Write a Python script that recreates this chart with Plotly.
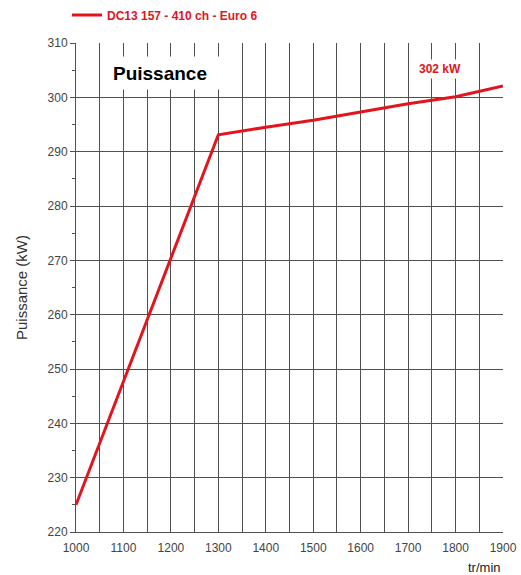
import plotly.graph_objects as go

rpm = [1000, 1300, 1400, 1500, 1600, 1700, 1800, 1900]
power_kw = [225, 293.1, 294.5, 295.8, 297.3, 298.8, 300.1, 302.1]
series_name = "DC13 157 - 410 ch - Euro 6"
x_ticks = [1000, 1100, 1200, 1300, 1400, 1500, 1600, 1700, 1800, 1900]
y_ticks = [220, 230, 240, 250, 260, 270, 280, 290, 300, 310]

RED = "#e3141b"
GRID = "#505050"
W, H = 521, 575

fig = go.Figure()
fig.add_trace(go.Scatter(
    x=rpm, y=power_kw, mode="lines", name=series_name,
    line=dict(color=RED, width=3),
))

fig.update_layout(
    width=W, height=H,
    margin=dict(l=76, r=18, t=43, b=43, autoexpand=False),
    paper_bgcolor="white", plot_bgcolor="white",
    font=dict(family="Liberation Sans, Arial, sans-serif", size=12, color="#444"),
    showlegend=True,
    legend=dict(
        orientation="h", x=67 / W, y=1 - 15 / H, xanchor="left", yanchor="middle",
        xref="container", yref="container",
        font=dict(color=RED, size=12, family="Liberation Sans, Arial, sans-serif", weight="bold"),
        itemwidth=30, bgcolor="rgba(0,0,0,0)",
    ),
    xaxis=dict(
        range=[1000, 1900], tickvals=x_ticks, ticktext=[str(v) for v in x_ticks],
        showgrid=True, gridcolor=GRID, gridwidth=1,
        minor=dict(dtick=50, showgrid=True, gridcolor=GRID, gridwidth=1),
        showline=True, linecolor=GRID, linewidth=1, mirror=False,
        ticks="", ticklabelstandoff=5,
        zeroline=False, fixedrange=True, automargin=False,
    ),
    yaxis=dict(
        range=[220, 310], tickvals=y_ticks,
        showgrid=True, gridcolor=GRID, gridwidth=1,
        ticks="outside", ticklen=5, tickcolor=GRID,
        minor=dict(dtick=5, ticks="outside", ticklen=3, tickcolor=GRID, showgrid=False),
        showline=True, linecolor=GRID, linewidth=1,
        zeroline=False, fixedrange=True, automargin=False,
        title=dict(text="Puissance (kW)", font=dict(size=15, color="#333"), standoff=16),
    ),
    annotations=[
        dict(text="<b>Puissance</b>", x=1177, y=304.5, xref="x", yref="y",
             xanchor="center", yanchor="middle", showarrow=False,
             font=dict(size=19, color="black"), bgcolor="white",
             width=116, height=30),
        dict(text="<b>302 kW</b>", x=1767, y=305.2, xref="x", yref="y",
             xanchor="center", yanchor="middle", showarrow=False,
             font=dict(size=12, color=RED), bgcolor="white", borderpad=2),
        dict(text="tr/min", x=1, y=-35 / 489, xref="paper", yref="paper",
             xanchor="right", yanchor="middle", showarrow=False,
             font=dict(size=13, color="#222")),
    ],
)

fig.write_html(
    "out.html",
    config={"displayModeBar": False},
    post_script="document.body.style.margin='0';document.body.style.overflow='hidden';",
)
